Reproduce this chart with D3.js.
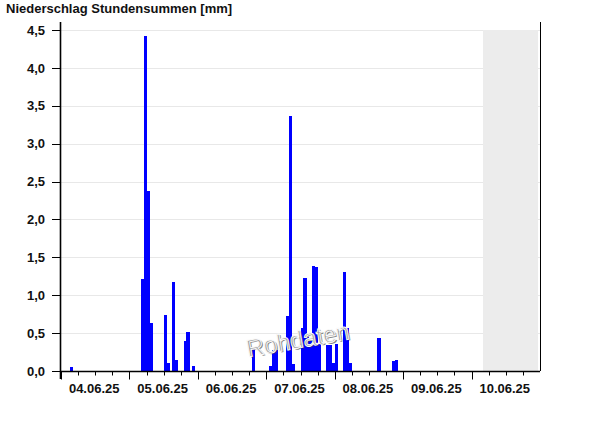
<!DOCTYPE html>
<html>
<head>
<meta charset="utf-8">
<script src="https://cdn.jsdelivr.net/npm/d3@7"></script>
<style>
  html, body { margin: 0; padding: 0; background: #fff; }
  svg { display: block; }
  text { font-family: "Liberation Sans", Arial, sans-serif; }
</style>
</head>
<body>
<svg id="chart" width="600" height="426"></svg>
<script>
// ---- data ----
const chartTitle = "Niederschlag Stundensummen [mm]";
const axisStart = "2025-06-04T00:00:00Z";
const axisEnd = "2025-06-11T00:00:00Z";
const forecastStart = "2025-06-10T04:00:00Z";
const dayLabels = ["04.06.25", "05.06.25", "06.06.25", "07.06.25", "08.06.25", "09.06.25", "10.06.25"];
const yTicks = [0, 0.5, 1, 1.5, 2, 2.5, 3, 3.5, 4, 4.5];
const yTickLabels = ["0,0", "0,5", "1,0", "1,5", "2,0", "2,5", "3,0", "3,5", "4,0", "4,5"];
const rainTimes = [
  "2025-06-04T03:00:00Z",
  "2025-06-05T04:00:00Z", "2025-06-05T05:00:00Z", "2025-06-05T06:00:00Z", "2025-06-05T07:00:00Z",
  "2025-06-05T12:00:00Z", "2025-06-05T13:00:00Z", "2025-06-05T15:00:00Z", "2025-06-05T16:00:00Z",
  "2025-06-05T19:00:00Z", "2025-06-05T20:00:00Z", "2025-06-05T22:00:00Z",
  "2025-06-06T19:00:00Z",
  "2025-06-07T01:00:00Z", "2025-06-07T02:00:00Z", "2025-06-07T03:00:00Z",
  "2025-06-07T07:00:00Z", "2025-06-07T08:00:00Z", "2025-06-07T09:00:00Z",
  "2025-06-07T12:00:00Z", "2025-06-07T13:00:00Z", "2025-06-07T14:00:00Z", "2025-06-07T15:00:00Z",
  "2025-06-07T16:00:00Z", "2025-06-07T17:00:00Z", "2025-06-07T18:00:00Z",
  "2025-06-07T21:00:00Z", "2025-06-07T22:00:00Z", "2025-06-07T23:00:00Z",
  "2025-06-08T00:00:00Z", "2025-06-08T03:00:00Z", "2025-06-08T04:00:00Z", "2025-06-08T05:00:00Z",
  "2025-06-08T15:00:00Z", "2025-06-08T20:00:00Z", "2025-06-08T21:00:00Z"
];
const rainMm = [
  0.05,
  1.22, 4.42, 2.37, 0.64,
  0.74, 0.11, 1.18, 0.15,
  0.40, 0.52, 0.06,
  0.30,
  0.07, 0.28, 0.28,
  0.73, 3.36, 0.09,
  0.57, 1.23, 0.45, 0.40,
  1.39, 1.37, 0.35,
  0.34, 0.34, 0.11,
  0.35, 1.31, 0.57, 0.11,
  0.44, 0.13, 0.15
];
const watermark = "Rohdaten";

// ---- layout ----
const svg = d3.select("#chart");
const mLeft = 61, mRight = 540, mTop = 30, mBottom = 371;

const x = d3.scaleUtc().domain([new Date(axisStart), new Date(axisEnd)]).range([mLeft, mRight]);
const y = d3.scaleLinear().domain([0, 4.5]).range([mBottom, mTop]);

svg.append("rect").attr("width", 600).attr("height", 426).attr("fill", "#fff");

// gridlines
svg.append("g").selectAll("line").data(yTicks.filter(d => d > 0)).join("line")
  .attr("x1", mLeft).attr("x2", mRight)
  .attr("y1", d => Math.round(y(d)) + 0.5).attr("y2", d => Math.round(y(d)) + 0.5)
  .attr("stroke", "#e8e8e8").attr("stroke-width", 1);

// forecast shading
svg.append("rect")
  .attr("x", x(new Date(forecastStart)))
  .attr("y", mTop)
  .attr("width", x(new Date(axisEnd)) - x(new Date(forecastStart)) - 2)
  .attr("height", mBottom - mTop)
  .attr("fill", "#ececec");

// bars
const rain = rainTimes.map((t, i) => ({ t: new Date(t), v: rainMm[i] }));
svg.append("g").selectAll("rect").data(rain).join("rect")
  .attr("x", d => x(d.t))
  .attr("width", d => x(d3.utcHour.offset(d.t, 1)) - x(d.t) + 0.3)
  .attr("y", d => y(d.v))
  .attr("height", d => y(0) - y(d.v))
  .attr("fill", "#0000ff")
  .attr("shape-rendering", "crispEdges");

// watermark
const wm = svg.append("g").attr("transform", "translate(248,357) rotate(-10)");
wm.append("text").attr("x", 1.3).attr("y", 1.3).text(watermark)
  .attr("font-size", 24).attr("fill", "#333").attr("opacity", 0.6);
wm.append("text").attr("x", 0).attr("y", 0).text(watermark)
  .attr("font-size", 24).attr("fill", "#999")
  .attr("stroke", "#fafafa").attr("stroke-width", 1);

// x axis
const xAxisG = svg.append("g").attr("transform", `translate(0,${mBottom})`);
xAxisG.append("line").attr("x1", mLeft).attr("x2", mRight).attr("y1", 0.5).attr("y2", 0.5)
  .attr("stroke", "#000").attr("stroke-width", 1.3);
const minorTicks = d3.utcHour.every(6).range(new Date(axisStart), new Date(axisEnd));
xAxisG.selectAll("line.tick").data(minorTicks).join("line").attr("class", "tick")
  .attr("x1", d => Math.round(x(d)) + 0.5).attr("x2", d => Math.round(x(d)) + 0.5)
  .attr("y1", 0).attr("y2", d => d.getUTCHours() === 0 ? 8.5 : 4.5)
  .attr("stroke", "#000").attr("stroke-width", 1);
const dayStarts = d3.utcDay.range(new Date(axisStart), new Date(axisEnd));
xAxisG.selectAll("text").data(dayStarts).join("text")
  .attr("x", d => x(d3.utcHour.offset(d, 12)) - 1)
  .attr("y", 22)
  .attr("text-anchor", "middle")
  .attr("font-size", 13).attr("font-weight", "bold").attr("fill", "#111")
  .text((d, i) => dayLabels[i]);

// y axis
const yAxisG = svg.append("g");
yAxisG.append("line").attr("x1", mLeft - 0.5).attr("x2", mLeft - 0.5).attr("y1", 22).attr("y2", mBottom + 8)
  .attr("stroke", "#000").attr("stroke-width", 1.6);
yAxisG.selectAll("line.tick").data(yTicks).join("line").attr("class", "tick")
  .attr("x1", mLeft - 9).attr("x2", mLeft)
  .attr("y1", d => Math.round(y(d)) + 0.5).attr("y2", d => Math.round(y(d)) + 0.5)
  .attr("stroke", "#000");
yAxisG.selectAll("text").data(yTicks).join("text")
  .attr("x", 45).attr("y", d => y(d))
  .attr("dy", "0.36em")
  .attr("text-anchor", "end")
  .attr("font-size", 13).attr("font-weight", "bold").attr("fill", "#111")
  .text((d, i) => yTickLabels[i]);

// right axis
svg.append("line").attr("x1", mRight + 0.5).attr("x2", mRight + 0.5).attr("y1", 22).attr("y2", mBottom)
  .attr("stroke", "#000").attr("stroke-width", 1);

// title
svg.append("text").attr("x", 6).attr("y", 13)
  .attr("font-size", 13).attr("font-weight", "bold").attr("fill", "#111")
  .text(chartTitle);
</script>
</body>
</html>
